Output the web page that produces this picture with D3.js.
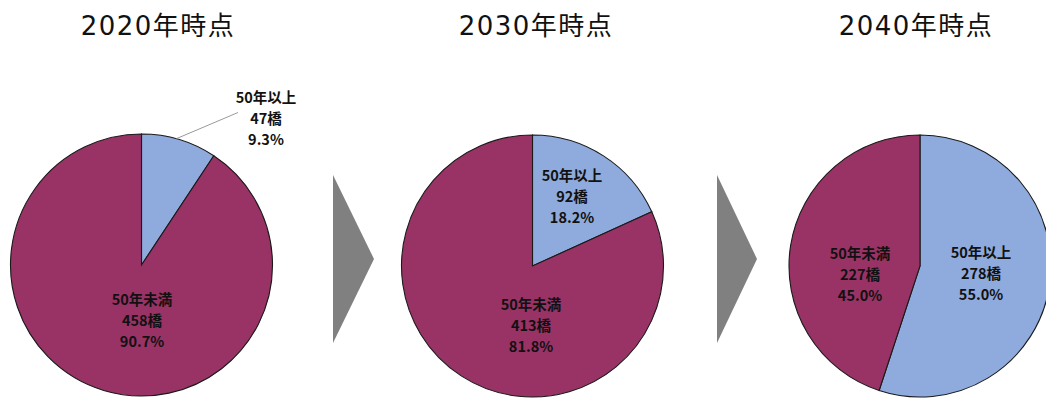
<!DOCTYPE html>
<html lang="ja">
<head>
<meta charset="utf-8">
<script src="https://cdn.jsdelivr.net/npm/d3@7"></script>
<style>
  html, body { margin: 0; padding: 0; background: #fff; }
  svg { display: block; }
</style>
</head>
<body>
<svg id="chart" width="1046" height="399"></svg>
<script>
// Bridges by age, three snapshots
const years      = ["2020年時点", "2030年時点", "2040年時点"];
const categories = ["50年以上", "50年未満"];
const counts2020 = [47, 458];
const counts2030 = [92, 413];
const counts2040 = [278, 227];
const shares2020 = ["9.3%", "90.7%"];
const shares2030 = ["18.2%", "81.8%"];
const shares2040 = ["55.0%", "45.0%"];
const colors     = ["#8faadc", "#993366"];

const series = [
  { title: years[0], counts: counts2020, shares: shares2020 },
  { title: years[1], counts: counts2030, shares: shares2030 },
  { title: years[2], counts: counts2040, shares: shares2040 }
];

// layout: pie centres, title positions, label offsets (relative to centre)
const layout = [
  { cx: 141.5, cy: 265, tx: 157, labels: [{ dx: 124.5, dy: -162.5, leader: true }, { dx: 0.5, dy: 39.5 }] },
  { cx: 532.5, cy: 266, tx: 535, labels: [{ dx: 39.5, dy: -85.5 }, { dx: -1.5, dy: 43.5 }] },
  { cx: 920,   cy: 266, tx: 915, labels: [{ dx: 61, dy: -8.5 }, { dx: -60, dy: -7.5 }] }
];
const radius = 131;
const lineGap = 21;

const svg = d3.select("#chart");

const pie = d3.pie().sort(null).value(d => d);
const arc = d3.arc().innerRadius(0).outerRadius(radius);

series.forEach((s, i) => {
  const L = layout[i];

  // title
  svg.append("text")
    .attr("x", L.tx + 1)
    .attr("y", 35)
    .attr("text-anchor", "middle")
    .style("font-family", "'DejaVu Sans', 'Noto Sans CJK JP', sans-serif")
    .style("font-size", "26px")
    .style("letter-spacing", "1.5px")
    .style("fill", "#111")
    .text(s.title);

  const g = svg.append("g").attr("transform", `translate(${L.cx},${L.cy})`);
  const arcs = pie(s.counts);

  g.selectAll("path")
    .data(arcs)
    .join("path")
    .attr("d", arc)
    .attr("fill", (d, j) => colors[j])
    .attr("stroke", "#1a1a1a")
    .attr("stroke-width", 1.1);

  arcs.forEach((a, j) => {
    const lp = L.labels[j];
    if (lp.leader) {
      const mid = (a.startAngle + a.endAngle) / 2;
      const r0 = radius + 1;
      g.append("line")
        .attr("x1", Math.sin(mid) * r0 - 3).attr("y1", -Math.cos(mid) * r0)
        .attr("x2", lp.dx - 28).attr("y2", lp.dy + 10)
        .attr("stroke", "#9a9a9a")
        .attr("stroke-width", 1);
    }
    const t = g.append("text")
      .attr("text-anchor", "middle")
      .style("font-family", "'Noto Sans CJK JP', sans-serif")
      .style("font-weight", "bold")
      .style("font-size", "14.5px")
      .style("fill", "#111");
    const lines = [categories[j], s.counts[j] + "橋", s.shares[j]];
    lines.forEach((ln, k) => {
      t.append("tspan")
        .attr("x", lp.dx)
        .attr("y", lp.dy + k * lineGap)
        .text(ln);
    });
  });
});

// gray chevrons between the snapshots
const arrows = [{ x: 333, w: 41 }, { x: 717, w: 40 }];
arrows.forEach(a => {
  const top = 175, bot = 343, mid = (top + bot) / 2;
  svg.append("path")
    .attr("d", d3.line()([[a.x, top], [a.x + a.w, mid], [a.x, bot]]) + "Z")
    .attr("fill", "#808080");
});
</script>
</body>
</html>
